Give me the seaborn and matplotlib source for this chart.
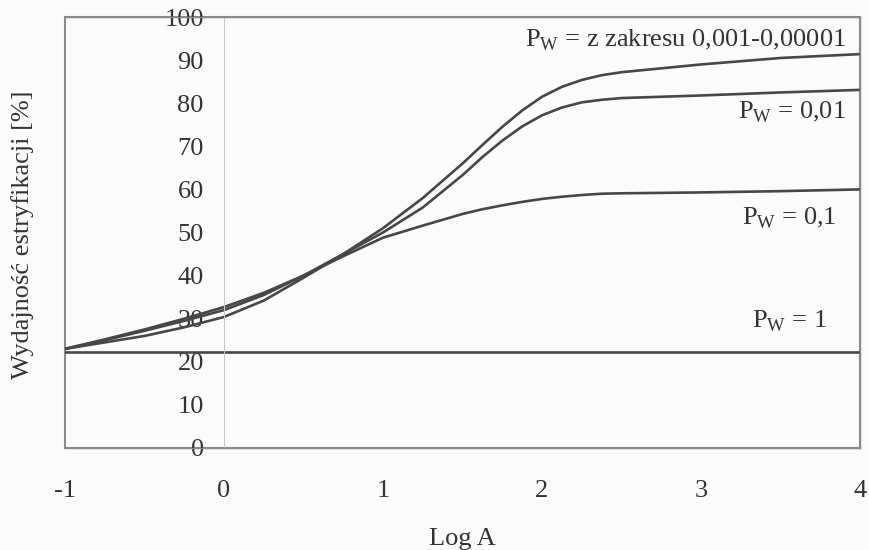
import numpy as np
import pandas as pd
import matplotlib
matplotlib.use("Agg")
import matplotlib.pyplot as plt
import seaborn as sns

# values (x = log A, y = yield in %)
log_a = [-1, -0.75, -0.5, -0.25, 0, 0.25, 0.5, 0.75, 1, 1.25, 1.5, 1.625, 1.75,
         1.875, 2, 2.125, 2.25, 2.375, 2.5, 2.75, 3, 3.5, 4]
y_small = [23, 24.5, 26.0, 28.0, 30.4, 34.2, 39.5, 45.0, 51.0, 58.0, 66.0, 70.3, 74.5,
           78.3, 81.5, 83.8, 85.4, 86.5, 87.2, 88.1, 89.0, 90.5, 91.4]
y_001 = [23, 25.0, 27.2, 29.5, 32.0, 35.5, 40.0, 45.0, 50.0, 55.8, 63.3, 67.5, 71.3,
         74.6, 77.2, 79.0, 80.2, 80.8, 81.2, 81.5, 81.8, 82.5, 83.1]
y_01 = [23, 25.2, 27.5, 30.0, 32.7, 36.0, 40.0, 44.5, 48.8, 51.6, 54.3, 55.4, 56.3,
        57.1, 57.8, 58.3, 58.7, 59.0, 59.1, 59.2, 59.3, 59.6, 60.0]
y_1 = [22.3] * len(log_a)

series = {
    "z zakresu 0,001-0,00001": y_small,
    "0,01": y_001,
    "0,1": y_01,
    "1": y_1,
}
df = pd.concat(
    [pd.DataFrame({"logA": log_a, "yield": v, "Pw": k}) for k, v in series.items()],
    ignore_index=True,
)

# label placement (x right edge, y centre) in data units
label_pos = {
    "z zakresu 0,001-0,00001": (3.91, 94.6),
    "0,01": (3.91, 77.8),
    "0,1": (3.85, 53.4),
    "1": (3.79, 29.5),
}

sns.set_style("white")
plt.rcParams["font.family"] = ["Liberation Serif", "DejaVu Serif"]
plt.rcParams["mathtext.fontset"] = "custom"
plt.rcParams["mathtext.rm"] = "Liberation Serif"
plt.rcParams["axes.unicode_minus"] = False

fig = plt.figure(figsize=(8.69, 5.5), dpi=100)
fig.patch.set_facecolor("#fbfbfb")
ax = fig.add_axes([0.0748, 0.1855, 0.9148, 0.7835])
ax.set_facecolor("#fbfbfb")

line_col = "#474747"
sns.lineplot(data=df, x="logA", y="yield", hue="Pw",
             palette=[line_col] * 4, linewidth=1.9, legend=False, ax=ax)

ax.set_xlim(-1, 4)
ax.set_ylim(0, 100)
ax.set_xticks([-1, 0, 1, 2, 3, 4])
ax.set_yticks(range(0, 101, 10))

# frame around the plot area
for side in ["top", "right", "bottom"]:
    ax.spines[side].set_visible(True)
    ax.spines[side].set_color("#8a8a8a")
    ax.spines[side].set_linewidth(1.0)
ax.patch.set_edgecolor("#8a8a8a")
ax.patch.set_linewidth(1.5)

# the value axis sits at log A = 0
ax.spines["left"].set_position(("data", 0))
ax.spines["left"].set_color("#c8c8c8")
ax.spines["left"].set_linewidth(0.8)

ax.tick_params(axis="y", direction="inout", length=13, width=0.8,
               color="#cfcfcf", pad=8, labelsize=19, labelcolor="#333333")
ax.tick_params(axis="x", direction="inout", length=16, width=0.8,
               color="#cfcfcf", pad=15, labelsize=19, labelcolor="#333333")

ax.set_xlabel("Log A", fontsize=19, color="#333333")
ax.xaxis.set_label_coords(0.5, -0.186)
ax.set_ylabel("Wydajność estryfikacji [%]", fontsize=19, color="#333333")
ax.yaxis.set_label_coords(-0.039, 0.494)

for name, (tx, ty) in label_pos.items():
    ax.text(tx, ty, r"P$_{\mathrm{W}}$ = " + name, ha="right", va="center",
            fontsize=19, color="#333333")

fig.savefig("out.png", dpi=100, facecolor=fig.get_facecolor())
